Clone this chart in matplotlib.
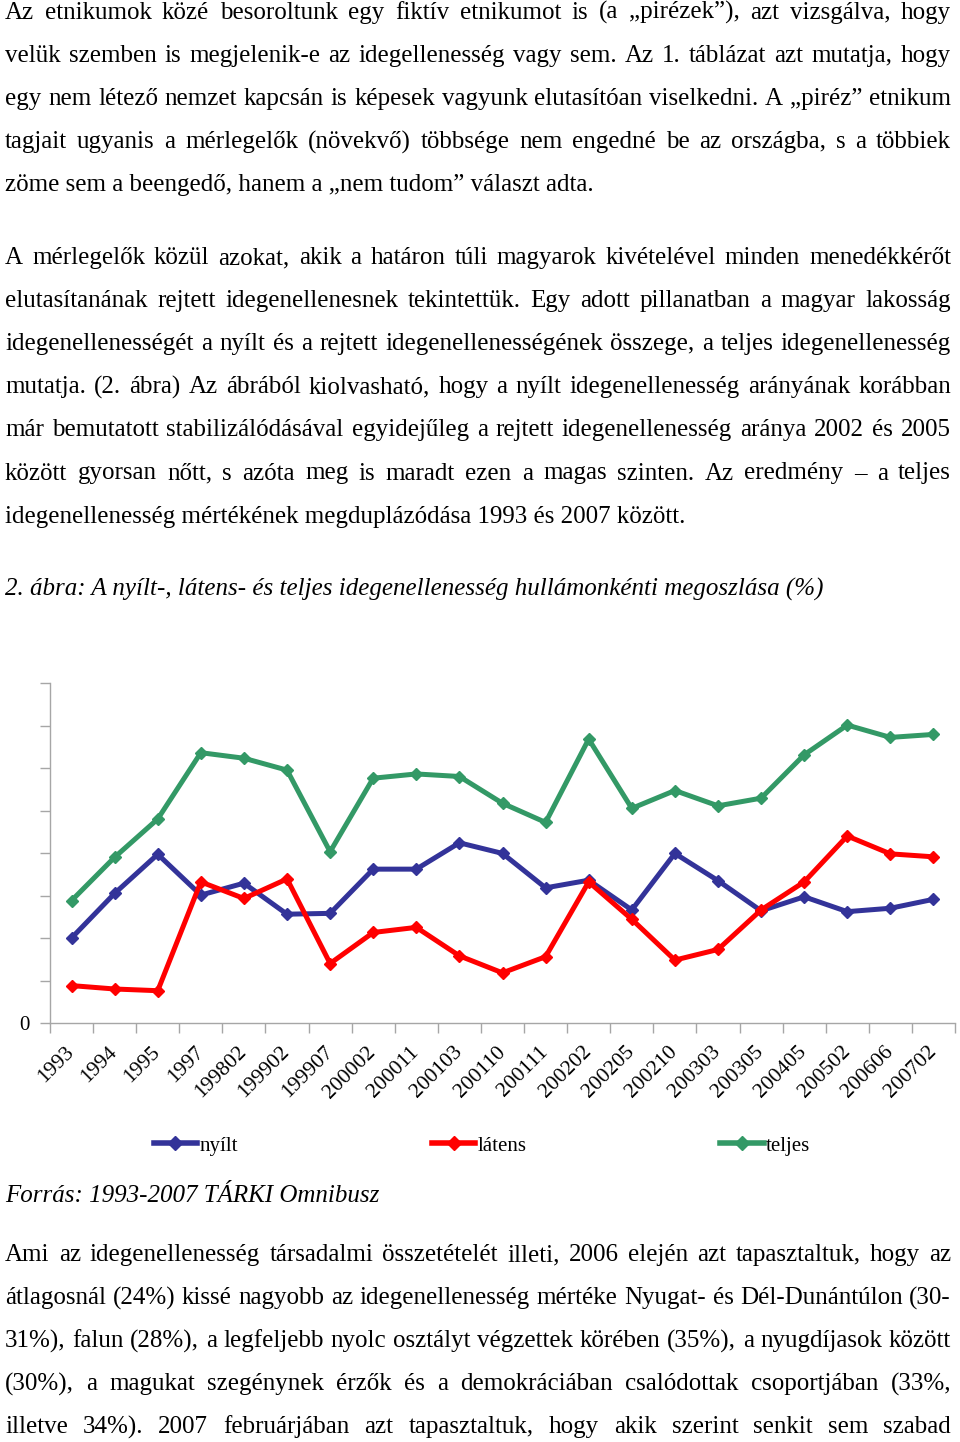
import matplotlib
matplotlib.use('Agg')
import matplotlib.pyplot as plt
import matplotlib.transforms as mtransforms
import numpy as np

# ---------------- data ----------------
categories = ['1993', '1994', '1995', '1997', '199802', '199902', '199907', '200002',
              '200011', '200103', '200110', '200111', '200202', '200205', '200210',
              '200303', '200305', '200405', '200502', '200606', '200702']
nyilt = [20.0, 30.5, 39.7, 30.1, 32.9, 25.6, 25.8, 36.2, 36.2, 42.4, 39.9, 31.8,
         33.6, 26.6, 39.9, 33.5, 26.4, 29.7, 26.2, 27.0, 29.1]
latens = [8.8, 8.0, 7.6, 33.2, 29.3, 33.9, 14.0, 21.3, 22.5, 15.8, 11.8, 15.6,
          33.2, 24.4, 14.8, 17.3, 26.6, 33.2, 44.0, 39.8, 39.1]
teljes = [28.8, 39.0, 48.0, 63.6, 62.3, 59.5, 40.3, 57.6, 58.6, 58.0, 51.7, 47.2,
          66.8, 50.5, 54.7, 51.1, 52.9, 63.1, 70.1, 67.2, 67.9]
series_names = ['nyílt', 'látens', 'teljes']
series_colors = ['#333399', '#ff0000', '#339966']
y_ticks = [0, 10, 20, 30, 40, 50, 60, 70, 80]
y_tick_labels = ['0', '', '', '', '', '', '', '', '']

para1 = [
    "Az etnikumok közé besoroltunk egy fiktív etnikumot is (a „pirézek”), azt vizsgálva, hogy",
    "velük szemben is megjelenik-e az idegellenesség vagy sem. Az 1. táblázat azt mutatja, hogy",
    "egy nem létező nemzet kapcsán is képesek vagyunk elutasítóan viselkedni. A „piréz” etnikum",
    "tagjait ugyanis a mérlegelők (növekvő) többsége nem engedné be az országba, s a többiek",
    "zöme sem a beengedő, hanem a „nem tudom” választ adta.",
]
para2 = [
    "A mérlegelők közül azokat, akik a határon túli magyarok kivételével minden menedékkérőt",
    "elutasítanának rejtett idegenellenesnek tekintettük. Egy adott pillanatban a magyar lakosság",
    "idegenellenességét a nyílt és a rejtett idegenellenességének összege, a teljes idegenellenesség",
    "mutatja. (2. ábra) Az ábrából kiolvasható, hogy a nyílt idegenellenesség arányának korábban",
    "már bemutatott stabilizálódásával egyidejűleg a rejtett idegenellenesség aránya 2002 és 2005",
    "között gyorsan nőtt, s azóta meg is maradt ezen a magas szinten. Az eredmény – a teljes",
    "idegenellenesség mértékének megduplázódása 1993 és 2007 között.",
]
caption = "2. ábra: A nyílt-, látens- és teljes idegenellenesség hullámonkénti megoszlása (%)"
source = "Forrás: 1993-2007 TÁRKI Omnibusz"
para3 = [
    "Ami az idegenellenesség társadalmi összetételét illeti, 2006 elején azt tapasztaltuk, hogy az",
    "átlagosnál (24%) kissé nagyobb az idegenellenesség mértéke Nyugat- és Dél-Dunántúlon (30-",
    "31%), falun (28%), a legfeljebb nyolc osztályt végzettek körében (35%), a nyugdíjasok között",
    "(30%), a magukat szegénynek érzők és a demokráciában csalódottak csoportjában (33%,",
    "illetve 34%). 2007 februárjában azt tapasztaltuk, hogy akik szerint senkit sem szabad",
]

# ---------------- figure ----------------
W, H = 960, 1442
fig = plt.figure(figsize=(W / 100, H / 100), dpi=100)
FONT = 'Liberation Serif'

page = fig.add_axes([0, 0, 1, 1])
page.set_xlim(0, W)
page.set_ylim(H, 0)
page.axis('off')
renderer = fig.canvas.get_renderer()

def width_of(s, size, style='normal'):
    t = page.text(0, 0, s, fontsize=size, family=FONT, style=style)
    w = t.get_window_extent(renderer).width
    t.remove()
    return w

# fit body font size to reference width of a left-aligned line
BODY = 16 * 589 / width_of(para1[-1], 16)

X0, X1 = 5, 951

def line(s, y, justify, size=BODY, style='normal'):
    if not justify:
        page.text(X0, y, s, fontsize=size, family=FONT, style=style, va='baseline')
        return
    words = s.split(' ')
    arts = [page.text(0, y, w, fontsize=size, family=FONT, style=style, va='baseline')
            for w in words]
    widths = [a.get_window_extent(renderer).width for a in arts]
    gap = (X1 - X0 - sum(widths)) / (len(words) - 1)
    x = X0
    for a, w in zip(arts, widths):
        a.set_x(x)
        x += w + gap

def paragraph(lines, y0, last_justified=False):
    for i, s in enumerate(lines):
        last = i == len(lines) - 1
        line(s, y0 + i * 43.1, justify=(not last) or last_justified)

paragraph(para1, 19)
paragraph(para2, 264)
line(caption, 596, False, style='italic')
line(source, 1202, False, style='italic')
paragraph(para3, 1261, last_justified=True)

# ---------------- chart ----------------
left, right = 50 / W, 955 / W
bottom, top = 1 - 1023 / H, 1 - 683 / H
ax = fig.add_axes([left, bottom, right - left, top - bottom])
x = np.arange(len(categories))
lines = []
for vals, name, col in zip([nyilt, latens, teljes], series_names, series_colors):
    ln, = ax.plot(x, vals, color=col, lw=3.6, marker='D', markersize=6.5,
                  label=name, solid_joinstyle='round')
    lines.append(ln)

ax.set_xlim(-0.5, len(categories) - 0.5)
ax.set_ylim(y_ticks[0], y_ticks[-1])
ax.set_yticks(y_ticks)
ax.set_yticklabels(y_tick_labels, family=FONT, fontsize=15)
ax.set_xticks(x)
ax.set_xticklabels(categories, family=FONT, fontsize=15.5, rotation=45,
                   ha='right', va='center', rotation_mode='anchor')
offset = mtransforms.ScaledTranslation(-5 / 100, -3 / 100, fig.dpi_scale_trans)
for lab in ax.get_xticklabels():
    lab.set_transform(lab.get_transform() + offset)
ax.set_xticks(np.arange(-0.5, len(categories)), minor=True)
ax.tick_params(axis='x', which='major', length=0, pad=19)
ax.tick_params(axis='x', which='minor', length=7, color='#a6a6a6', width=1)
ax.tick_params(axis='y', length=7, color='#a6a6a6', width=1, pad=8)
for s in ['top', 'right']:
    ax.spines[s].set_visible(False)
for s in ['left', 'bottom']:
    ax.spines[s].set_color('#a6a6a6')
    ax.spines[s].set_linewidth(1)
ax.patch.set_alpha(0)

leg = fig.legend(lines, series_names, loc='center', bbox_to_anchor=(482 / W, 1 - 1146 / H),
                 ncol=3, frameon=False, numpoints=1,
                 prop={'family': FONT, 'size': 15},
                 handlelength=2.1, handletextpad=0.1, columnspacing=9.3)
for h in leg.legend_handles:
    h.set_linewidth(4)
    h.set_markersize(7)

fig.savefig('out.png', dpi=100)
